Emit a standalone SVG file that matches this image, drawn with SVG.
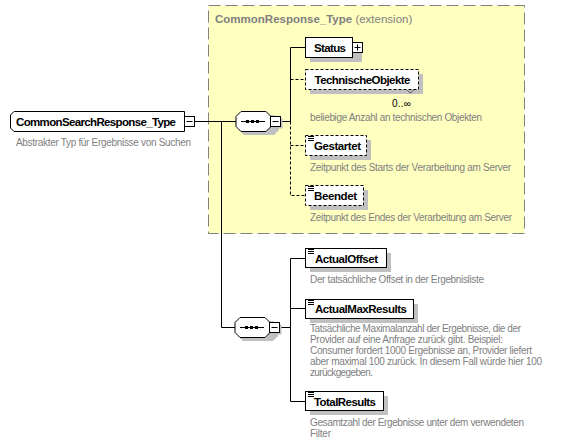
<svg xmlns="http://www.w3.org/2000/svg" width="569" height="445" viewBox="0 0 569 445">
<style>
.lbl{font-family:"Liberation Sans",Arial,sans-serif;font-weight:bold;font-size:11.5px;fill:#000}
.desc{font-family:"Liberation Sans",Arial,sans-serif;font-size:10px;fill:#808080}
.ttl{font-family:"Liberation Sans",Arial,sans-serif;font-size:11.5px;fill:#808080}
.box{fill:#fff;stroke:#000;stroke-width:1}
.dbox{fill:#fff;stroke:#000;stroke-width:1;stroke-dasharray:3 2}
.shd{fill:#c0c0c0}
.ln{fill:none;stroke:#000;stroke-width:1}
.dln{fill:none;stroke:#000;stroke-width:1;stroke-dasharray:3 2}
.ico{stroke:#000;stroke-width:1}
</style>
<defs>
<g id="icon"><line class="ico" x1="0" y1="0.5" x2="6" y2="0.5"/><line class="ico" x1="0" y1="2.5" x2="6" y2="2.5"/><line class="ico" x1="0" y1="4.5" x2="6" y2="4.5"/></g>
<g id="minus"><rect x="0" y="0" width="10" height="10" class="box"/><line class="ico" x1="2" y1="5" x2="8" y2="5"/></g>
<g id="seq"><path class="shd" d="M244,115 H274 L279,120 V130 L274,135 H244 L239,130 V120 Z"/><path class="box" d="M241,111.5 H266 L271,116.5 V126.5 L266,131.5 H241 L236,126.5 V116.5 Z"/><line class="ico" x1="241" y1="121.5" x2="265" y2="121.5"/><rect x="246" y="120" width="3" height="3"/><rect x="251" y="120" width="3" height="3"/><rect x="256" y="120" width="3" height="3"/><rect x="272.5" y="118.5" width="10" height="10" class="shd"/><use href="#minus" x="270.5" y="116.5"/></g>
</defs>
<g id="extension">
<rect x="208.5" y="5.5" width="316" height="228" fill="#ffffc0" stroke="#808080" stroke-width="1" stroke-dasharray="12 5"/>
<text x="215" y="23" class="ttl"><tspan font-weight="bold">CommonResponse_Type</tspan> (extension)</text>
</g>
<g id="connectors">
<line class="ln" x1="194.5" y1="121.5" x2="236" y2="121.5"/>
<polyline class="ln" points="221.5,121.5 221.5,327.5 235,327.5"/>
<line class="ln" x1="280.5" y1="121.5" x2="290.5" y2="121.5"/>
<polyline class="ln" points="305.5,47.5 290.5,47.5 290.5,121.5"/>
<polyline class="dln" points="290.5,121.5 290.5,195.5 305.5,195.5"/>
<line class="dln" x1="290.5" y1="79.5" x2="305.5" y2="79.5"/>
<line class="dln" x1="290.5" y1="145.5" x2="305.5" y2="145.5"/>
<line class="ln" x1="280.5" y1="327.5" x2="290.5" y2="327.5"/>
<polyline class="ln" points="305.5,258.5 290.5,258.5 290.5,401.5 305.5,401.5"/>
<line class="ln" x1="290.5" y1="308.5" x2="305.5" y2="308.5"/>
</g>
<g id="CommonSearchResponse_Type">
<path class="box" d="M14,111.5 H184.5 V131.5 H14 L10.5,128 V115 Z"/>
<text x="16" y="125.5" class="lbl" textLength="160">CommonSearchResponse_Type</text>
<use href="#minus" x="184.5" y="116.5"/>
<text x="16" y="146" class="desc" textLength="175">Abstrakter Typ für Ergebnisse von Suchen</text>
</g>
<g id="sequence1"><use href="#seq"/></g>
<g id="sequence2"><use href="#seq" x="-1" y="206"/></g>
<g id="Status">
<rect class="shd" x="310" y="42" width="52" height="20"/>
<rect class="box" x="305.5" y="37.5" width="47" height="20"/>
<text x="314" y="51.5" class="lbl" textLength="32">Status</text>
<rect x="352.5" y="42.5" width="10" height="10" class="box"/>
<line class="ico" x1="354.5" y1="47.5" x2="360.5" y2="47.5"/><line class="ico" x1="357.5" y1="44.5" x2="357.5" y2="50.5"/>
</g>
<g id="TechnischeObjekte">
<rect class="shd" x="310" y="74" width="113" height="20"/>
<rect class="dbox" x="305.5" y="69.5" width="113" height="20"/>
<polyline points="407,90 410,93 414,90" fill="none" stroke="#606060" stroke-width="1"/>
<text x="314.5" y="84" class="lbl" textLength="96">TechnischeObjekte</text>
<text x="392" y="106.5" font-family="Liberation Sans,Arial,sans-serif" font-size="10" fill="#000" textLength="19">0..∞</text>
<text x="310" y="121" class="desc" textLength="172">beliebige Anzahl an technischen Objekten</text>
</g>
<g id="Gestartet">
<rect class="shd" x="310" y="140" width="61" height="20"/>
<rect class="dbox" x="305.5" y="135.5" width="61" height="20"/>
<use href="#icon" x="308" y="136"/>
<text x="314" y="150" class="lbl" textLength="47">Gestartet</text>
<text x="310" y="171" class="desc" textLength="201">Zeitpunkt des Starts der Verarbeitung am Server</text>
</g>
<g id="Beendet">
<rect class="shd" x="310" y="190" width="58" height="20"/>
<rect class="dbox" x="305.5" y="185.5" width="58" height="20"/>
<use href="#icon" x="308" y="186"/>
<text x="314" y="200" class="lbl" textLength="43">Beendet</text>
<text x="310" y="221" class="desc" textLength="202">Zeitpunkt des Endes der Verarbeitung am Server</text>
</g>
<g id="ActualOffset">
<rect class="shd" x="310" y="253" width="81" height="19"/>
<rect class="box" x="305.5" y="248.5" width="81" height="19"/>
<use href="#icon" x="308" y="249"/>
<text x="315" y="262.5" class="lbl" textLength="63">ActualOffset</text>
<text x="310" y="283" class="desc" textLength="174">Der tatsächliche Offset in der Ergebnisliste</text>
</g>
<g id="ActualMaxResults">
<rect class="shd" x="310" y="304" width="108" height="19"/>
<rect class="box" x="305.5" y="299.5" width="108" height="19"/>
<use href="#icon" x="308" y="300"/>
<text x="315" y="313" class="lbl" textLength="92">ActualMaxResults</text>
<text x="310" y="332" class="desc" textLength="211">Tatsächliche Maximalanzahl der Ergebnisse, die der</text>
<text x="310" y="343" class="desc" textLength="193">Provider auf eine Anfrage zurück gibt. Beispiel:</text>
<text x="310" y="354" class="desc" textLength="222">Consumer fordert 1000 Ergebnisse an, Provider liefert</text>
<text x="310" y="365" class="desc" textLength="232">aber maximal 100 zurück. In diesem Fall würde hier 100</text>
<text x="310" y="376" class="desc" textLength="63">zurückgegeben.</text>
</g>
<g id="TotalResults">
<rect class="shd" x="310" y="396" width="78" height="19"/>
<rect class="box" x="305.5" y="391.5" width="78" height="19"/>
<use href="#icon" x="308" y="392"/>
<text x="314" y="405.5" class="lbl" textLength="62">TotalResults</text>
<text x="310" y="426" class="desc" textLength="214">Gesamtzahl der Ergebnisse unter dem verwendeten</text>
<text x="310" y="437" class="desc" textLength="21">Filter</text>
</g>
</svg>
